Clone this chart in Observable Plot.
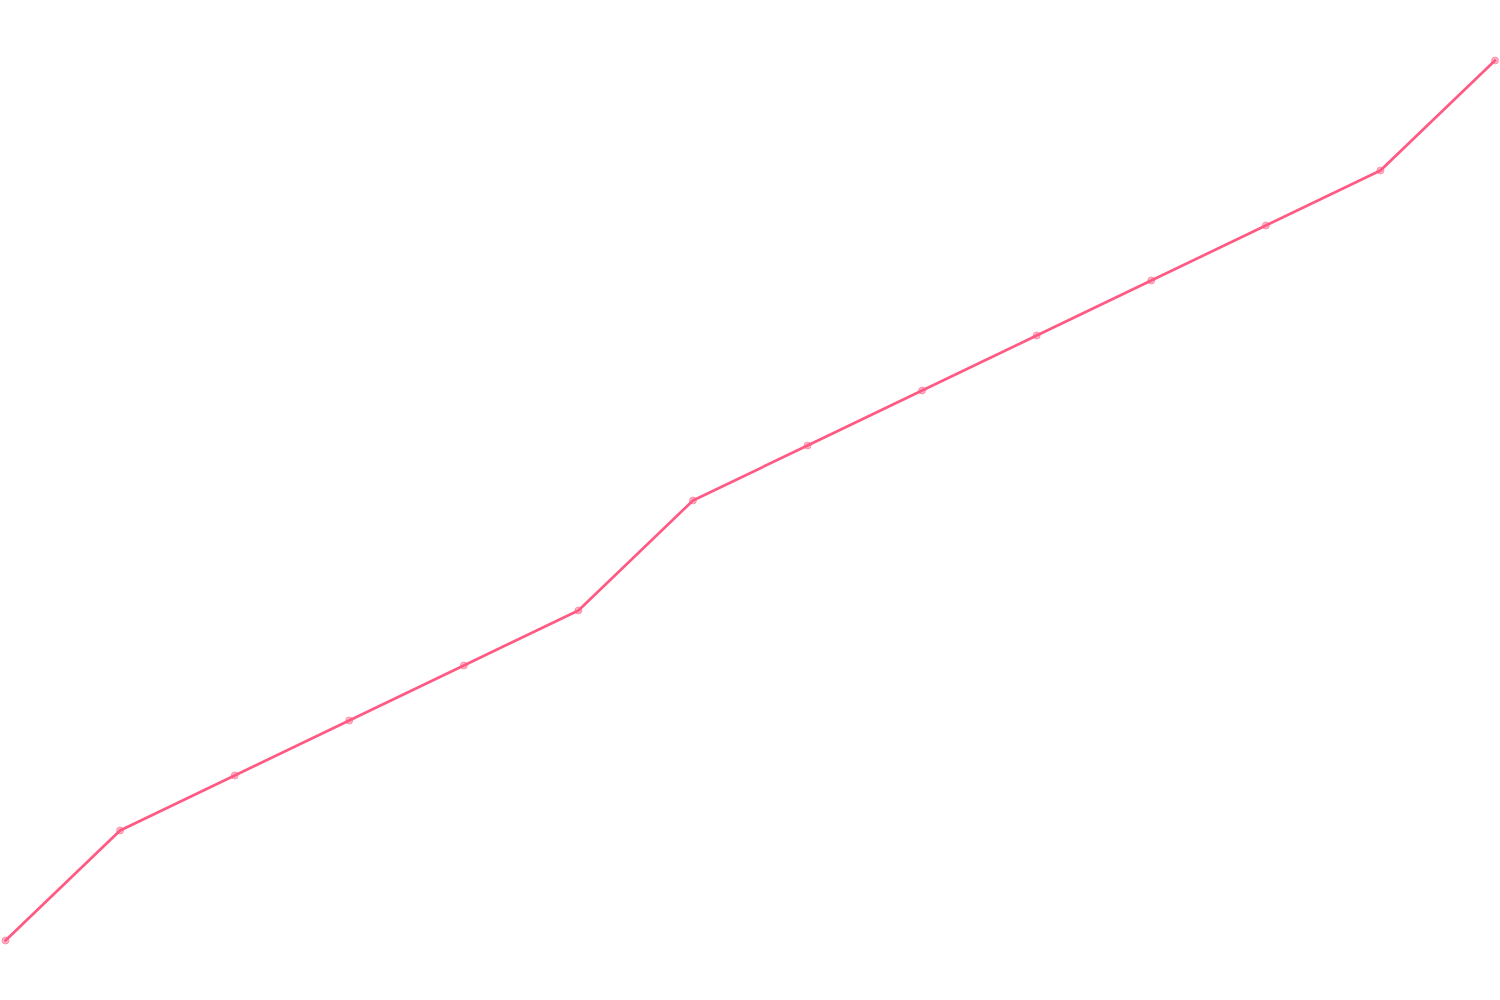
<!DOCTYPE html>
<html>
<head>
<meta charset="utf-8">
<script src="https://cdn.jsdelivr.net/npm/d3@7"></script>
<script src="https://cdn.jsdelivr.net/npm/@observablehq/plot@0.6"></script>
<style>
  html, body { margin: 0; padding: 0; background: #fff; }
</style>
</head>
<body>
<div id="chart"></div>
<script>
const steps = [0, 1, 2, 3, 4, 5, 6, 7, 8, 9, 10, 11, 12, 13];
const values = [0, 2, 3, 4, 5, 6, 8, 9, 10, 11, 12, 13, 14, 16];

const data = steps.map((s, i) => ({step: s, value: values[i]}));

const chart = Plot.plot({
  width: 1500,
  height: 1000,
  marginLeft: 5,
  marginRight: 5.5,
  marginTop: 60,
  marginBottom: 60,
  x: {domain: [0, 13], axis: null},
  y: {domain: [0, 16], axis: null},
  marks: [
    Plot.line(data, {x: "step", y: "value", stroke: "#ff5a83", strokeWidth: 2.7}),
    Plot.dot(data, {x: "step", y: "value", r: 3.5, fill: "#ff5a83", fillOpacity: 0.45, stroke: "#ff5a83", strokeOpacity: 0.5, strokeWidth: 1})
  ]
});
document.getElementById("chart").appendChild(chart);
</script>
</body>
</html>
